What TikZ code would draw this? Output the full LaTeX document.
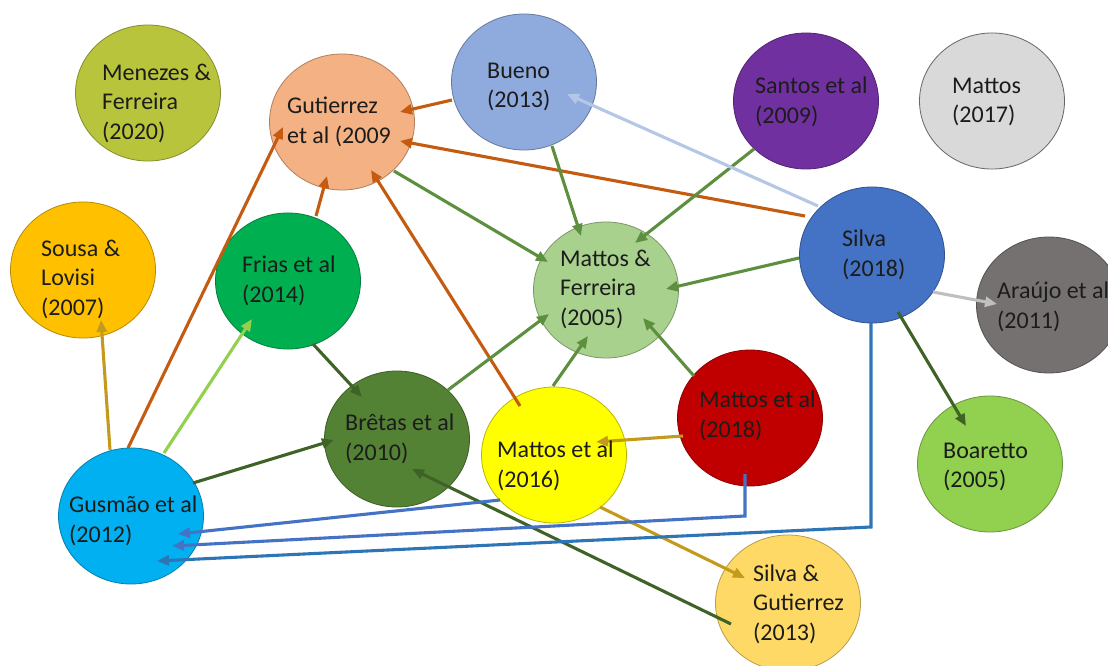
\documentclass[tikz,border=0pt]{standalone}
\usepackage{fontspec}
\setmainfont{Carlito}
\usetikzlibrary{shapes.geometric,arrows.meta,calc}
\definecolor{cMen}{HTML}{B8C43C}
\definecolor{cGut}{HTML}{F4B183}
\definecolor{cBue}{HTML}{8FAADC}
\definecolor{cSan}{HTML}{7030A0}
\definecolor{cMs}{HTML}{D9D9D9}
\definecolor{cSou}{HTML}{FFC000}
\definecolor{cFri}{HTML}{00B050}
\definecolor{cMF}{HTML}{A9D18E}
\definecolor{cSil}{HTML}{4472C4}
\definecolor{cAra}{HTML}{767171}
\definecolor{cBoa}{HTML}{92D050}
\definecolor{cBre}{HTML}{548235}
\definecolor{cMsx}{HTML}{FFFF00}
\definecolor{cMei}{HTML}{C00000}
\definecolor{cGus}{HTML}{00B0F0}
\definecolor{cSG}{HTML}{FFD966}
\definecolor{txt}{HTML}{1C1C1C}
\definecolor{eOr}{HTML}{C55A11}
\definecolor{eGr}{HTML}{5C8F3E}
\definecolor{eDg}{HTML}{3F6327}
\definecolor{eLg}{HTML}{92D050}
\definecolor{eGo}{HTML}{C49A1C}
\definecolor{eLb}{HTML}{B4C7E7}
\definecolor{eGy}{HTML}{BFBFBF}
\definecolor{eB1}{HTML}{2E75B6}
\definecolor{eB2}{HTML}{4472C4}
\begin{document}
\begin{tikzpicture}[x=1pt,y=-1pt,
  bub/.style={ellipse, fill=#1, draw=#1!72!black, line width=0.8pt,
    minimum width=145pt, minimum height=136pt, inner sep=0pt},
  lbl/.style={anchor=west, align=left, inner sep=0pt,
    font=\fontsize{24}{29.5}\selectfont, text=txt},
  arr/.style={draw=#1, line width=3.1pt, -{Triangle[length=12pt,width=10pt]}}]
\fill[white] (0,0) rectangle (1108,666);
\useasboundingbox (0,0) rectangle (1108,666);
% circles
\node[bub=cMen] (men) at (148,93) {};
\node[bub=cGut] (gut) at (342,122) {};
\node[bub=cBue] (bue) at (524,82) {};
\node[bub=cSan] (san) at (806,101) {};
\node[bub=cMs, draw=black!60] (m17) at (992,101) {};
\node[bub=cSou] (sou) at (83,270) {};
\node[bub=cFri] (fri) at (288,281) {};
\node[bub=cMF] (mf) at (606,290) {};
\node[bub=cSil] (sil) at (872,255) {};
\node[bub=cAra] (ara) at (1049,305) {};
\node[bub=cBoa] (boa) at (990,464) {};
\node[bub=cBre] (bre) at (397,439) {};
\node[bub=cMsx] (m16) at (554,455) {};
\node[bub=cMei] (m18) at (750,418) {};
\node[bub=cGus] (gus) at (131,516) {};
\node[bub=cSG] (sg) at (788,603) {};
% connectors
\draw[arr=eOr] ($(bue)+(-72,18)$) -- ($(gut)+(58,-10)$);
\draw[arr=eOr] ($(sil)+(-67,-39)$) -- ($(gut)+(58,19)$);
\draw[arr=eOr] ($(gus)+(-3,-68)$) -- ($(gut)+(-59,5)$);
\draw[arr=eOr] ($(fri)+(28,-65)$) -- ($(gut)+(-15,54)$);
\draw[arr=eOr] ($(m16)+(-34,-49)$) -- ($(gut)+(29,48)$);
\draw[arr=eGr] ($(gut)+(52,49)$) -- ($(mf)+(-58,-28)$);
\draw[arr=eGr] ($(bue)+(28,64)$) -- ($(mf)+(-25,-54)$);
\draw[arr=eGr] ($(san)+(-52,48)$) -- ($(mf)+(29,-47)$);
\draw[arr=eGr] ($(sil)+(-73,3)$) -- ($(mf)+(60,-1)$);
\draw[arr=eGr] ($(bre)+(51,-49)$) -- ($(mf)+(-57,24)$);
\draw[arr=eGr] ($(m16)+(-1,-69)$) -- ($(mf)+(-18,46)$);
\draw[arr=eGr] ($(m18)+(-56,-42)$) -- ($(mf)+(37,28)$);
\draw[arr=eDg] ($(fri)+(25,63)$) -- ($(bre)+(-35,-42)$);
\draw[arr=eDg] ($(gus)+(62,-33)$) -- ($(bre)+(-63,1)$);
\draw[arr=eDg] ($(sg)+(-57,21)$) -- ($(bre)+(15,30)$);
\draw[arr=eDg] ($(sil)+(26,57)$) -- ($(boa)+(-24,-38)$);
\draw[arr=eLg] ($(gus)+(33,-63)$) -- ($(fri)+(-36,38)$);
\draw[arr=eGo] ($(gus)+(-21,-66)$) -- ($(sou)+(18,50)$);
\draw[arr=eGo] ($(m18)+(-67,18)$) -- ($(m16)+(42,-13)$);
\draw[arr=eGo] ($(m16)+(46,52)$) -- ($(sg)+(-43,-25)$);
\draw[arr=eLb] ($(sil)+(-54,-49)$) -- ($(bue)+(43,12)$);
\draw[arr=eGy] ($(sil)+(61,37)$) -- ($(ara)+(-52,-1)$);
\draw[arr=eB1] ($(sil)+(-1,68)$) -- ++(0,204) -- ($(gus)+(26,45)$);
\draw[arr=eB2] ($(m18)+(-5,56)$) -- ++(0,42) -- ($(gus)+(41,30)$);
\draw[arr=eB2] ($(m16)+(-54,45)$) -- ($(gus)+(47,18)$);
% labels
\node[lbl] (men-t) at ($(men)+(-46,10)$) {Menezes \&\\Ferreira\\(2020)};
\node[lbl] (gut-t) at ($(gut)+(-55,0)$) {Gutierrez\\et al (2009};
\node[lbl] (bue-t) at ($(bue)+(-37,5)$) {Bueno\\(2013)};
\node[lbl] (san-t) at ($(san)+(-51,1)$) {Santos et al\\(2009)};
\node[lbl] (m17-t) at ($(m17)+(-40,1)$) {Mattos\\(2017)};
\node[lbl] (sou-t) at ($(sou)+(-42,9)$) {Sousa \&\\Lovisi\\(2007)};
\node[lbl] (fri-t) at ($(fri)+(-46,0)$) {Frias et al\\(2014)};
\node[lbl] (mf-t) at ($(mf)+(-46,-1)$) {Mattos \&\\Ferreira\\(2005)};
\node[lbl] (sil-t) at ($(sil)+(-30,0)$) {Silva\\(2018)};
\node[lbl] (ara-t) at ($(ara)+(-52,2)$) {Araújo et al\\(2011)};
\node[lbl] (boa-t) at ($(boa)+(-47,3)$) {Boaretto\\(2005)};
\node[lbl] (bre-t) at ($(bre)+(-52,0)$) {Brêtas et al\\(2010)};
\node[lbl] (m16-t) at ($(m16)+(-57,11)$) {Mattos et al\\(2016)};
\node[lbl] (m18-t) at ($(m18)+(-51,-2)$) {Mattos et al\\(2018)};
\node[lbl] (gus-t) at ($(gus)+(-62,5)$) {Gusmão et al\\(2012)};
\node[lbl] (sg-t) at ($(sg)+(-35,1)$) {Silva \&\\Gutierrez\\(2013)};
\end{tikzpicture}
\end{document}
